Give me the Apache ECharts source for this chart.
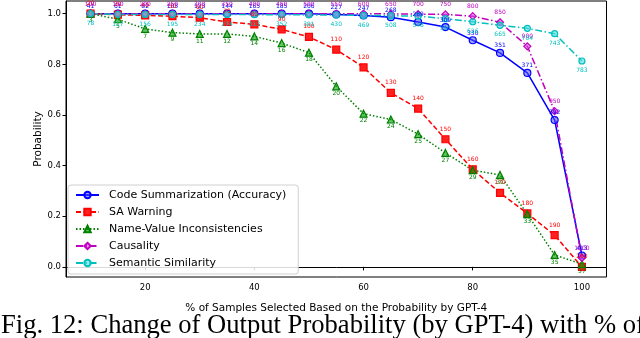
<!DOCTYPE html>
<html>
<head>
<meta charset="utf-8">
<script src="https://cdn.jsdelivr.net/npm/echarts@6/dist/echarts.min.js"></script>
<style>
  html, body { margin: 0; padding: 0; background: #fff; }
  #chart { width: 640px; height: 338px; }
</style>
</head>
<body>
<div id="chart"></div>
<script>
// % of samples selected (x)
const percents = [10, 15, 20, 25, 30, 35, 40, 45, 50, 55, 60, 65, 70, 75, 80, 85, 90, 95, 100];

// probabilities
const codeSumProb = [1.0, 1.0, 1.0, 1.0, 1.0, 1.0, 1.0, 1.0, 1.0, 0.997, 0.993, 0.986, 0.967, 0.947, 0.895, 0.845, 0.766, 0.58, 0.045];
const saWarningProb = [1.0, 0.996, 0.993, 0.99, 0.984, 0.967, 0.958, 0.938, 0.908, 0.858, 0.788, 0.687, 0.625, 0.504, 0.385, 0.292, 0.211, 0.125, 0.0];
const nameValueProb = [1.0, 0.978, 0.94, 0.925, 0.92, 0.92, 0.91, 0.884, 0.846, 0.713, 0.605, 0.582, 0.524, 0.45, 0.382, 0.363, 0.208, 0.047, 0.011];
const causalityProb = [1.0, 1.0, 1.0, 1.0, 1.0, 1.0, 1.0, 1.0, 1.0, 1.0, 1.0, 0.999, 0.998, 0.997, 0.99, 0.966, 0.871, 0.615, 0.035];
const semSimProb = [1.0, 0.997, 0.997, 0.997, 0.997, 0.997, 0.996, 0.996, 0.995, 0.995, 0.993, 0.992, 0.99, 0.98, 0.968, 0.954, 0.942, 0.921, 0.813];

// sample counts annotated at each point
const codeSumCount = [41, 61, 82, 103, 123, 144, 165, 185, 206, 227, 247, 268, 289, 309, 330, 351, 371, 392, 413];
const saWarningCount = [20, 30, 40, 50, 60, 70, 80, 90, 100, 110, 120, 130, 140, 150, 160, 170, 180, 190, 200];
const nameValueCount = [3, 5, 7, 9, 11, 12, 14, 16, 18, 20, 22, 24, 25, 27, 29, 31, 33, 35, 37];
const causalityCount = [100, 150, 200, 250, 300, 350, 400, 450, 500, 550, 600, 650, 700, 750, 800, 850, 900, 950, 1000];
const semSimCount = [78, 117, 156, 195, 234, 274, 313, 352, 391, 430, 469, 508, 548, 587, 626, 665, 704, 743, 783];

const xTicks = [20, 40, 60, 80, 100];
const yTicks = [0.0, 0.2, 0.4, 0.6, 0.8, 1.0];

function pts(ys, counts) {
  return percents.map((x, i) => ({ value: [x, ys[i]], count: counts[i] }));
}

function makeSeries(name, ys, counts, color, fill, symbol, size, dash, labelPos, labelDist) {
  return {
    name: name,
    type: 'line',
    data: pts(ys, counts),
    symbol: symbol,
    symbolSize: size,
    showAllSymbol: true,
    clip: false,
    lineStyle: { color: color, width: 1.5, type: dash },
    itemStyle: { color: fill, borderColor: color, borderWidth: 1.2 },
    label: {
      show: true,
      position: labelPos,
      distance: labelDist,
      fontSize: 6,
      fontFamily: 'DejaVu Sans',
      color: color,
      formatter: p => String(p.data.count)
    },
    emphasis: { disabled: true },
    animation: false
  };
}

const chart = echarts.init(document.getElementById('chart'), null, { renderer: 'canvas' });

chart.setOption({
  animation: false,
  title: {
    text: 'Fig. 12: Change of Output Probability (by GPT-4) with % of',
    left: 1,
    top: 313,
    padding: 0,
    textStyle: { fontFamily: 'Liberation Serif', fontSize: 26.6, fontWeight: 'normal', color: '#000' }
  },
  grid: {
    left: 66, right: 33.5, top: 1, bottom: 61,
    show: true, borderColor: '#000', borderWidth: 1, backgroundColor: '#fff'
  },
  legend: {
    orient: 'vertical',
    left: 68,
    top: 185,
    padding: [4, 12, 5, 7],
    itemWidth: 23,
    itemHeight: 8,
    itemGap: 5,
    borderColor: '#d0d0d0',
    borderWidth: 1,
    borderRadius: 3,
    backgroundColor: 'rgba(255,255,255,0.85)',
    textStyle: { fontFamily: 'DejaVu Sans', fontSize: 11, color: '#000', lineHeight: 12, padding: [0, 0, 0, 5] }
  },
  xAxis: {
    type: 'value',
    min: 5.5,
    max: 104.5,
    name: '% of Samples Selected Based on the Probability by GPT-4',
    nameLocation: 'middle',
    nameGap: 26,
    nameMoveOverlap: false,
    nameTextStyle: { fontFamily: 'DejaVu Sans', fontSize: 10.5, color: '#000' },
    splitLine: { show: false },
    axisLine: { show: true, lineStyle: { color: '#000', width: 1 } },
    axisTick: { show: true, length: 3.5, customValues: xTicks, lineStyle: { color: '#000' } },
    axisLabel: { customValues: xTicks, fontFamily: 'DejaVu Sans', fontSize: 8.5, color: '#000', margin: 6 }
  },
  yAxis: {
    type: 'value',
    min: -0.04,
    max: 1.05,
    name: 'Probability',
    nameLocation: 'middle',
    nameGap: 22,
    nameMoveOverlap: false,
    nameTextStyle: { fontFamily: 'DejaVu Sans', fontSize: 10.5, color: '#000' },
    splitLine: { show: false },
    axisLine: { show: true, lineStyle: { color: '#000', width: 1 } },
    axisTick: { show: true, length: 3.5, customValues: yTicks, lineStyle: { color: '#000' } },
    axisLabel: {
      customValues: yTicks, fontFamily: 'DejaVu Sans', fontSize: 8.5, color: '#000', margin: 5,
      formatter: v => v.toFixed(1)
    }
  },
  series: [
    makeSeries('Code Summarization (Accuracy)', codeSumProb, codeSumCount, '#0000ff', 'rgba(80,80,255,0.55)', 'circle', 7, 'solid', 'top', 0),
    makeSeries('SA Warning', saWarningProb, saWarningCount, '#ff0000', '#ff2020', 'rect', 7, [5, 2.5], 'top', 3),
    makeSeries('Name-Value Inconsistencies', nameValueProb, nameValueCount, '#008000', 'rgba(0,160,0,0.6)', 'triangle', 7, [1.5, 2], 'bottom', 0),
    makeSeries('Causality', causalityProb, causalityCount, '#bf00bf', 'rgba(220,80,220,0.6)', 'diamond', 7, [7, 2.5, 1.5, 2.5], 'top', 2.5),
    makeSeries('Semantic Similarity', semSimProb, semSimCount, '#00bfbf', 'rgba(80,220,220,0.6)', 'circle', 6, [7, 2.5, 1.5, 2.5], 'bottom', 3)
  ]
});
</script>
</body>
</html>
